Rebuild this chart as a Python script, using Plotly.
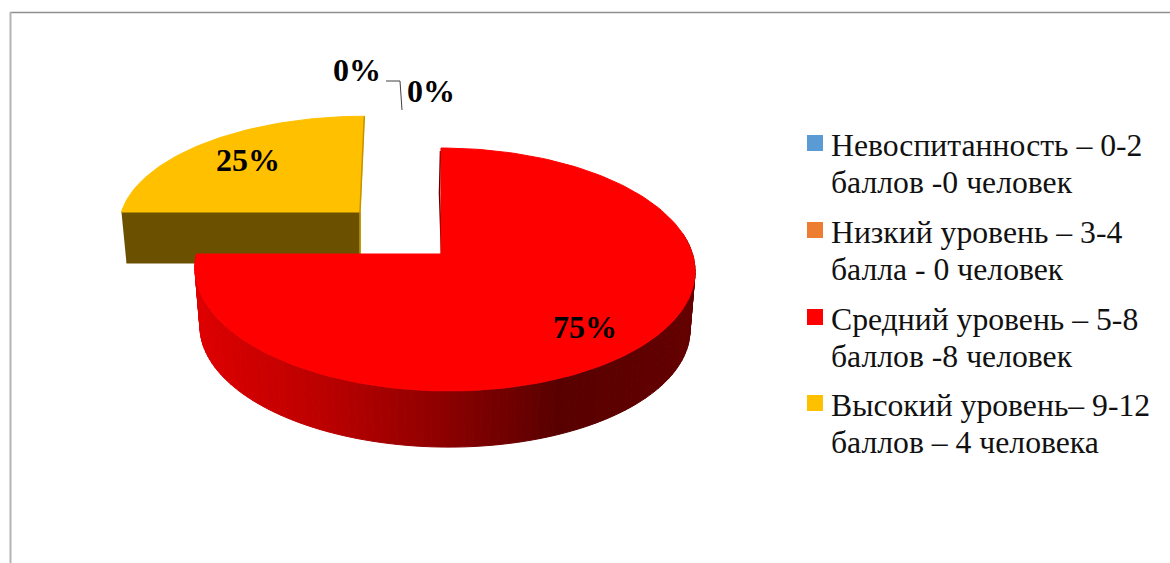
import math

import plotly.graph_objects as go

LINE_1 = [
    "Невоспитанность – 0-2",
    "Низкий уровень – 3-4",
    "Средний уровень – 5-8",
    "Высокий уровень– 9-12",
]
LINE_2 = [
    "баллов -0 человек",
    "балла - 0 человек",
    "баллов -8 человек",
    "баллов – 4 человека",
]
PERCENT = [0, 0, 75, 25]
COLORS = ["#5b9bd5", "#ed7d31", "#ff0000", "#ffc000"]

SERIF = "Liberation Serif"
TILT = 0.1276


def rim(deg, ax, ay, cx, half_w, reach, dy=0.0):
    # point on the pie edge, clockwise from 12 o'clock, seen in perspective
    t = math.radians(deg)
    w = 1 + TILT * math.cos(t)
    y = ay - reach * math.cos(t) / w
    x = cx + half_w * math.sin(t) / w + 0.033 * (y - ay - 16)
    return x, y + dy


def side_color(x):
    stops = [(195, 222), (330, 185), (445, 140), (560, 88), (696, 100)]
    for (x0, c0), (x1, c1) in zip(stops, stops[1:]):
        if x <= x1:
            f = max(0, (x - x0) / (x1 - x0))
            return f"rgb({round(c0 + (c1 - c0) * f)},0,0)"
    return f"rgb({stops[-1][1]},0,0)"


starts = [sum(PERCENT[:i]) * 3.6 for i in range(len(PERCENT))]
red_start, red_end = starts[2], starts[2] + PERCENT[2] * 3.6
gold_start, gold_end = starts[3], starts[3] + PERCENT[3] * 3.6

fig = go.Figure()

# exploded gold slice: cut face first, then the top
arc = [gold_start + (gold_end - gold_start) * i / 60 for i in range(61)]
pts = [rim(d, 360, 212, 362 + 6 * math.cos(math.radians(d)), 240, 108) for d in arc]
fig.add_trace(go.Scatter(
    x=[pts[0][0], 360, 360, pts[0][0] + 5],
    y=[212, 212, 263, 263],
    fill="toself", mode="lines", fillcolor="#6b5000",
    line=dict(color="#6b5000", width=1), hoverinfo="skip", showlegend=False,
))
fig.add_trace(go.Scatter(
    x=[360] + [p[0] for p in pts] + [360],
    y=[212] + [p[1] for p in pts] + [212],
    fill="toself", mode="lines", fillcolor=COLORS[3],
    line=dict(color=COLORS[3], width=1), hoverinfo="skip", showlegend=False,
))
fig.add_trace(go.Scatter(
    x=[pts[-1][0], 360, 360], y=[pts[-1][1], 212, 254], mode="lines",
    line=dict(color="#c49400", width=1.5), hoverinfo="skip", showlegend=False,
))

# red slice: shaded side wall in strips, then the cut edge and the top
RED_A = (254, 445, 248, 119.5)
LOW_A = (254, 445, 243, 117, 59)
steps = 110
for i in range(steps):
    d0 = 80 + (red_end - 80) * i / steps
    d1 = 80 + (red_end - 80) * (i + 1) / steps
    u0, u1 = rim(d0, 441, *RED_A), rim(d1, 441, *RED_A)
    l0, l1 = rim(d0, 441, *LOW_A), rim(d1, 441, *LOW_A)
    col = side_color((u0[0] + u1[0]) / 2)
    fig.add_trace(go.Scatter(
        x=[u0[0], u1[0], l1[0], l0[0], u0[0]],
        y=[u0[1], u1[1], l1[1], l0[1], u0[1]],
        fill="toself", mode="lines", fillcolor=col,
        line=dict(color=col, width=1), hoverinfo="skip", showlegend=False,
    ))

arc = [red_start + (red_end - red_start) * i / 180 for i in range(181)]
pts = [rim(d, 441, *RED_A) for d in arc]
fig.add_trace(go.Scatter(
    x=[pts[0][0] - 0.5, pts[0][0] - 1.5, 441.5],
    y=[pts[0][1] + 3, pts[0][1] + 45, 254],
    mode="lines", line=dict(color="#5a0000", width=1.5),
    hoverinfo="skip", showlegend=False,
))
fig.add_trace(go.Scatter(
    x=[441] + [p[0] for p in pts] + [441],
    y=[254] + [p[1] for p in pts] + [254],
    fill="toself", mode="lines", fillcolor=COLORS[2],
    line=dict(color=COLORS[2], width=1), hoverinfo="skip", showlegend=False,
))

# leader line of the 0 % label
fig.add_trace(go.Scatter(
    x=[386, 400, 402], y=[81, 81, 110], mode="lines",
    line=dict(color="#404040", width=1), hoverinfo="skip", showlegend=False,
))

pct = [f"{p}%" for p in PERCENT]
label_pos = [(357, 73), (431, 94), (585, 330), (248, 163)]
fig.add_trace(go.Scatter(
    x=[p[0] for p in label_pos],
    y=[p[1] for p in label_pos],
    mode="text", text=pct, textposition="middle center",
    textfont=dict(family=SERIF, size=32, color="black", weight="bold"),
    hoverinfo="skip", showlegend=False,
))

# legend on the right, drawn by hand for its line spacing
ROW_Y = [143, 230, 317, 403]
fig.add_trace(go.Scatter(
    x=[815] * len(ROW_Y), y=ROW_Y, mode="markers",
    marker=dict(symbol="square", size=16, color=COLORS),
    hoverinfo="skip", showlegend=False,
))
notes = []
for row, one, two in zip(ROW_Y, LINE_1, LINE_2):
    for off, text in ((2, one), (39, two)):
        notes.append(dict(
            x=829, y=row + off, text=text, showarrow=False,
            xanchor="left", yanchor="middle",
            font=dict(family=SERIF, size=31.7, color="#111111"),
        ))

fig.update_layout(
    width=1170, height=563,
    margin=dict(l=0, r=0, t=0, b=0),
    paper_bgcolor="white", plot_bgcolor="white",
    showlegend=False,
    xaxis=dict(range=[0, 1170], visible=False, fixedrange=True),
    yaxis=dict(range=[563, 0], visible=False, fixedrange=True),
    annotations=notes,
    shapes=[
        dict(type="line", x0=10, x1=1170, y0=12.5, y1=12.5,
             line=dict(color="#8e8e8e", width=1.5)),
        dict(type="line", x0=10.5, x1=10.5, y0=12, y1=563,
             line=dict(color="#b4b4b4", width=2)),
    ],
)

fig.write_html(
    "out.html",
    config=dict(displayModeBar=False),
    post_script="document.body.style.margin = '0';",
)
